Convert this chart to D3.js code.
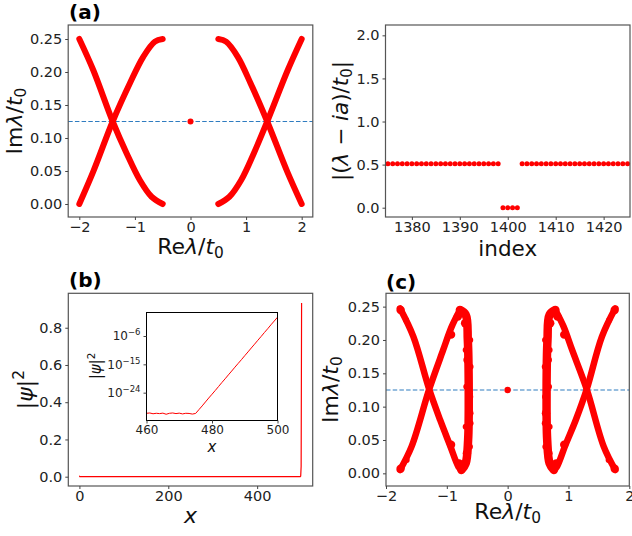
<!DOCTYPE html>
<html>
<head>
<meta charset="utf-8">
<script src="https://cdn.jsdelivr.net/npm/d3@7"></script>
<style>
  body { margin: 0; background: #fff; }
  svg { font-family: "DejaVu Sans", sans-serif; }
</style>
</head>
<body>
<svg id="fig" width="632" height="536"></svg>
<script>
// ---- data ----
// (a) spectrum, Re/Im of lambda
var aLeftDown = [[-2, 0.25], [-1.75, 0.203], [-1.40, 0.125], [-1.15, 0.077], [-0.91, 0.036], [-0.70, 0.011], [-0.5, 0.0]];
var aLeftUp = [[-2, 0.0], [-1.75, 0.049], [-1.40, 0.125], [-1.09, 0.183], [-0.85, 0.223], [-0.64, 0.246], [-0.5, 0.25]];
var aRightDown = [[0.5, 0.25], [0.64, 0.246], [0.85, 0.223], [1.08, 0.183], [1.38, 0.125], [1.74, 0.049], [2, 0.0]];
var aRightUp = [[0.5, 0.0], [0.70, 0.011], [0.91, 0.036], [1.14, 0.077], [1.38, 0.125], [1.75, 0.203], [2, 0.25]];
var aZero = [[0, 0.125]];
var dashLevel = 0.125;

// top right: |(lambda - ia)/t0| against index
var trIndex = d3.range(1375, 1426);
var trValue = [0.51, 0.51, 0.51, 0.51, 0.51, 0.51, 0.51, 0.51, 0.51, 0.51,
               0.51, 0.51, 0.51, 0.51, 0.51, 0.51, 0.51, 0.51, 0.51, 0.51,
               0.51, 0.51, 0.51, 0.51, 0, 0, 0, 0, 0.51, 0.51,
               0.51, 0.51, 0.51, 0.51, 0.51, 0.51, 0.51, 0.51, 0.51, 0.51,
               0.51, 0.51, 0.51, 0.51, 0.51, 0.51, 0.51, 0.51, 0.51, 0.51, 0.51];

// (b) |psi|^2 ; inset is log10 of the same near the right edge
var bHeadX = [0, 1, 459];
var bHeadY = [0.005, 0.0, 0.0];
var insetX = d3.range(460, 501);
var insetLog = [-30.55, -30.45, -30.7, -30.55, -30.65, -30.5, -30.85, -30.55, -30.45, -30.65,
                -30.5, -30.75, -30.55, -30.6, -30.8, -30.6,
                -29.4, -28.2, -26.95, -25.7, -24.5, -23.3, -22.05, -20.8, -19.6, -18.35,
                -17.15, -15.9, -14.7, -13.5, -12.25, -11.05, -9.8, -8.6, -7.35, -6.15,
                -4.9, -3.7, -2.45, -1.25, -0.03];
var insetTicks = [-24, -15, -6];

// (c) spectrum with disorder
var cLeftDown = [[-1.77, 0.2475], [-1.55, 0.205], [-1.29, 0.126], [-1.11, 0.08], [-0.95, 0.0425], [-0.81, 0.01], [-0.76, 0.005]];
var cLeftUp = [[-1.77, 0.005], [-1.58, 0.04], [-1.29, 0.126], [-1.06, 0.185], [-0.92, 0.22], [-0.785, 0.245]];
var cLeftLoop = [[-0.785, 0.245], [-0.69, 0.238], [-0.655, 0.2], [-0.64, 0.125], [-0.65, 0.05], [-0.69, 0.015], [-0.76, 0.005]];
var cRightDown = [[0.785, 0.245], [0.92, 0.22], [1.06, 0.185], [1.30, 0.126], [1.58, 0.04], [1.77, 0.005]];
var cRightUp = [[0.76, 0.005], [0.81, 0.01], [0.95, 0.0425], [1.12, 0.08], [1.30, 0.126], [1.55, 0.205], [1.77, 0.2475]];
var cRightLoop = [[0.785, 0.245], [0.69, 0.238], [0.655, 0.2], [0.64, 0.125], [0.65, 0.05], [0.69, 0.015], [0.76, 0.005]];
var cBlobs = [[-1.76, 0.245], [-1.76, 0.007], [1.76, 0.245], [1.76, 0.007],
              [-0.77, 0.24], [-0.76, 0.008], [0.77, 0.24], [0.76, 0.008],
              [-0.93, 0.208], [-0.93, 0.043], [0.93, 0.208], [0.93, 0.043],
              [-0.66, 0.17], [-0.63, 0.09], [0.66, 0.17], [0.63, 0.09],
              [-0.67, 0.03], [0.67, 0.03], [-0.7, 0.225], [0.7, 0.225],
              [-0.82, 0.235], [0.82, 0.235], [-0.8, 0.015], [0.8, 0.015]];
var cSpeckle = [[-0.615, 0.2], [-0.61, 0.16], [-0.615, 0.115], [-0.61, 0.075], [-0.69, 0.185], [-0.69, 0.07],
                [-0.68, 0.13], [-0.62, 0.04], [0.615, 0.2], [0.61, 0.16], [0.615, 0.115], [0.61, 0.075],
                [0.69, 0.185], [0.69, 0.07], [0.68, 0.13], [0.62, 0.04], [-1.66, 0.02], [1.66, 0.02],
                [-1.67, 0.23], [1.67, 0.23]];
var cZero = [[0, 0.125]];

var red = "#ff0000";
var frameColor = "#555";
var svg = d3.select("#fig");

function frame(g, x, y, color, w) {
    var r = x.range(), s = y.range();
    g.append("rect")
        .attr("x", r[0]).attr("y", s[1])
        .attr("width", r[1] - r[0]).attr("height", s[0] - s[1])
        .attr("fill", "none").attr("stroke", color || frameColor)
        .attr("stroke-width", w || 1.2);
}

function axes(g, x, y, xt, yt, xf, yf, size) {
    size = size || 14.5;
    var gx = g.append("g")
        .attr("transform", "translate(0," + y.range()[0] + ")")
        .call(d3.axisBottom(x).tickValues(xt).tickFormat(xf).tickSize(3).tickPadding(1.5));
    var gy = g.append("g")
        .attr("transform", "translate(" + x.range()[0] + ",0)")
        .call(d3.axisLeft(y).tickValues(yt).tickFormat(yf).tickSize(3).tickPadding(3));
    [gx, gy].forEach(function (a) {
        a.select(".domain").remove();
        a.selectAll("text").attr("font-size", size).attr("fill", "#222")
            .attr("font-family", "DejaVu Sans");
        a.selectAll("line").attr("stroke", "#444");
    });
    return gy;
}

function label(g, x, y, parts, size, rot) {
    var t = g.append("text")
        .attr("text-anchor", "middle")
        .attr("font-size", size)
        .attr("fill", "#111")
        .attr("transform", "translate(" + x + "," + y + ")" + (rot ? " rotate(-90)" : ""));
    parts.forEach(function (p) {
        var s = t.append("tspan").text(p.t);
        if (p.i) s.attr("font-style", "italic");
        if (p.sub) s.attr("font-size", size * 0.7).attr("dy", size * 0.2);
        if (p.sup) s.attr("font-size", size * 0.7).attr("dy", -size * 0.4);
        if (p.back) s.attr("dy", p.back);
    });
    return t;
}

function panelTag(txt, x, y) {
    svg.append("text").attr("x", x).attr("y", y)
        .attr("font-size", 20).attr("font-weight", "bold").attr("fill", "#000")
        .text(txt);
}

var curve = d3.line().curve(d3.curveCatmullRom.alpha(0.5));

function band(g, x, y, pts, w) {
    g.append("path")
        .attr("d", curve.x(function (d) { return x(d[0]); }).y(function (d) { return y(d[1]); })(pts))
        .attr("fill", "none").attr("stroke", red)
        .attr("stroke-width", w).attr("stroke-linecap", "round").attr("stroke-linejoin", "round");
}

function dots(g, x, y, pts, r) {
    g.selectAll(null).data(pts).enter().append("circle")
        .attr("cx", function (d) { return x(d[0]); })
        .attr("cy", function (d) { return y(d[1]); })
        .attr("r", r).attr("fill", red);
}

function dashed(g, x, y, level) {
    g.append("line")
        .attr("x1", x.range()[0]).attr("x2", x.range()[1])
        .attr("y1", y(level)).attr("y2", y(level))
        .attr("stroke", "#2f7cc0").attr("stroke-width", 1.2)
        .attr("stroke-dasharray", "4.5,2.2");
}

var reLabel = [{t: "Re"}, {t: "λ", i: true}, {t: "/"}, {t: "t", i: true}, {t: "0", sub: true}];
var imLabel = [{t: "Im"}, {t: "λ", i: true}, {t: "/"}, {t: "t", i: true}, {t: "0", sub: true}];

// ---------- (a) ----------
(function () {
    var g = svg.append("g");
    var x = d3.scaleLinear().domain([-2.2, 2.2]).range([68.2, 312.8]);
    var y = d3.scaleLinear().domain([-0.0197, 0.2712]).range([217, 25]);
    dashed(g, x, y, dashLevel);
    [aLeftDown, aLeftUp, aRightDown, aRightUp].forEach(function (p) { band(g, x, y, p, 6); });
    dots(g, x, y, aZero, 3);
    frame(g, x, y);
    axes(g, x, y, [-2, -1, 0, 1, 2], [0, 0.05, 0.1, 0.15, 0.2, 0.25], d3.format("d"), d3.format(".2f"));
    label(g, 190.5, 254, reLabel, 22);
    label(g, 22, 121, imLabel, 22, true);
    panelTag("(a)", 69, 19);
})();

// ---------- top right ----------
(function () {
    var g = svg.append("g");
    var x = d3.scaleLinear().domain([1374.5, 1425.5]).range([385.5, 630]);
    var y = d3.scaleLinear().domain([-0.108, 2.12]).range([217, 25]);
    var pts = trIndex.map(function (k, i) { return [k, trValue[i]]; });
    dots(g, x, y, pts, 2.5);
    frame(g, x, y);
    axes(g, x, y, [1380, 1390, 1400, 1410, 1420], [0, 0.5, 1, 1.5, 2], d3.format("d"), d3.format(".1f"));
    label(g, 507.7, 256, [{t: "index"}], 21.5);
    label(g, 348, 121, [{t: "|("}, {t: "λ", i: true}, {t: " − "}, {t: "ia", i: true}, {t: ")/"},
                        {t: "t", i: true}, {t: "0", sub: true}, {t: "|", back: -4.4}], 21.5, true);
})();

// ---------- (b) ----------
(function () {
    var g = svg.append("g");
    var x = d3.scaleLinear().domain([-25, 525]).range([68.3, 312.7]);
    var y = d3.scaleLinear().domain([-0.05, 0.985]).range([486, 293.3]);
    var pts = bHeadX.map(function (k, i) { return [k, bHeadY[i]]; })
        .concat(insetX.map(function (k, i) { return [k, Math.pow(10, insetLog[i])]; }));
    g.append("path")
        .attr("d", d3.line().x(function (d) { return x(d[0]); }).y(function (d) { return y(d[1]); })(pts))
        .attr("fill", "none").attr("stroke", red).attr("stroke-width", 1.2);
    frame(g, x, y);
    axes(g, x, y, [0, 200, 400], [0, 0.2, 0.4, 0.6, 0.8], d3.format("d"), d3.format(".1f"));
    label(g, 190.5, 523, [{t: "x", i: true}], 22);
    label(g, 33, 389.6, [{t: "|"}, {t: "ψ", i: true}, {t: "|"}, {t: "2", sup: true}], 22, true);
    panelTag("(b)", 69, 287);

    // inset
    var ig = svg.append("g");
    var ix = d3.scaleLinear().domain([460, 500]).range([146.5, 277.5]);
    var iy = d3.scaleLinear().domain([-32.84, 1.465]).range([420.5, 312.5]);
    ig.append("rect").attr("x", 146.5).attr("y", 312.5).attr("width", 131).attr("height", 108).attr("fill", "#fff");
    ig.append("path")
        .attr("d", d3.line().x(function (d, i) { return ix(insetX[i]); }).y(function (d) { return iy(d); })(insetLog))
        .attr("fill", "none").attr("stroke", red).attr("stroke-width", 1);
    frame(ig, ix, iy, "#000", 1);
    var gy = axes(ig, ix, iy, [460, 480, 500], insetTicks, d3.format("d"), function () { return ""; }, 12);
    gy.selectAll(".tick text").each(function (d) {
        var t = d3.select(this);
        t.text(null);
        t.append("tspan").text("10");
        t.append("tspan").text("−" + Math.abs(d)).attr("font-size", 8.5).attr("dy", -5);
    });
    label(ig, 212, 451.7, [{t: "x", i: true}], 15);
    label(ig, 101, 366, [{t: "|"}, {t: "ψ", i: true}, {t: "|"}, {t: "2", sup: true}], 15, true);
})();

// ---------- (c) ----------
(function () {
    var g = svg.append("g");
    var x = d3.scaleLinear().domain([-2, 2]).range([386, 629.3]);
    var y = d3.scaleLinear().domain([-0.019, 0.27]).range([486, 293.3]);
    dashed(g, x, y, dashLevel);
    [cLeftDown, cLeftUp, cRightDown, cRightUp].forEach(function (p) { band(g, x, y, p, 6.5); });
    [cLeftLoop, cRightLoop].forEach(function (p) { band(g, x, y, p, 8.5); });
    dots(g, x, y, cBlobs, 4.2);
    dots(g, x, y, cSpeckle, 3);
    dots(g, x, y, cZero, 3.2);
    frame(g, x, y);
    axes(g, x, y, [-2, -1, 0, 1, 2], [0, 0.05, 0.1, 0.15, 0.2, 0.25], d3.format("d"), d3.format(".2f"));
    label(g, 507.7, 519, reLabel, 22);
    label(g, 338, 389.6, imLabel, 22, true);
    panelTag("(c)", 386, 289);
})();
</script>
</body>
</html>
